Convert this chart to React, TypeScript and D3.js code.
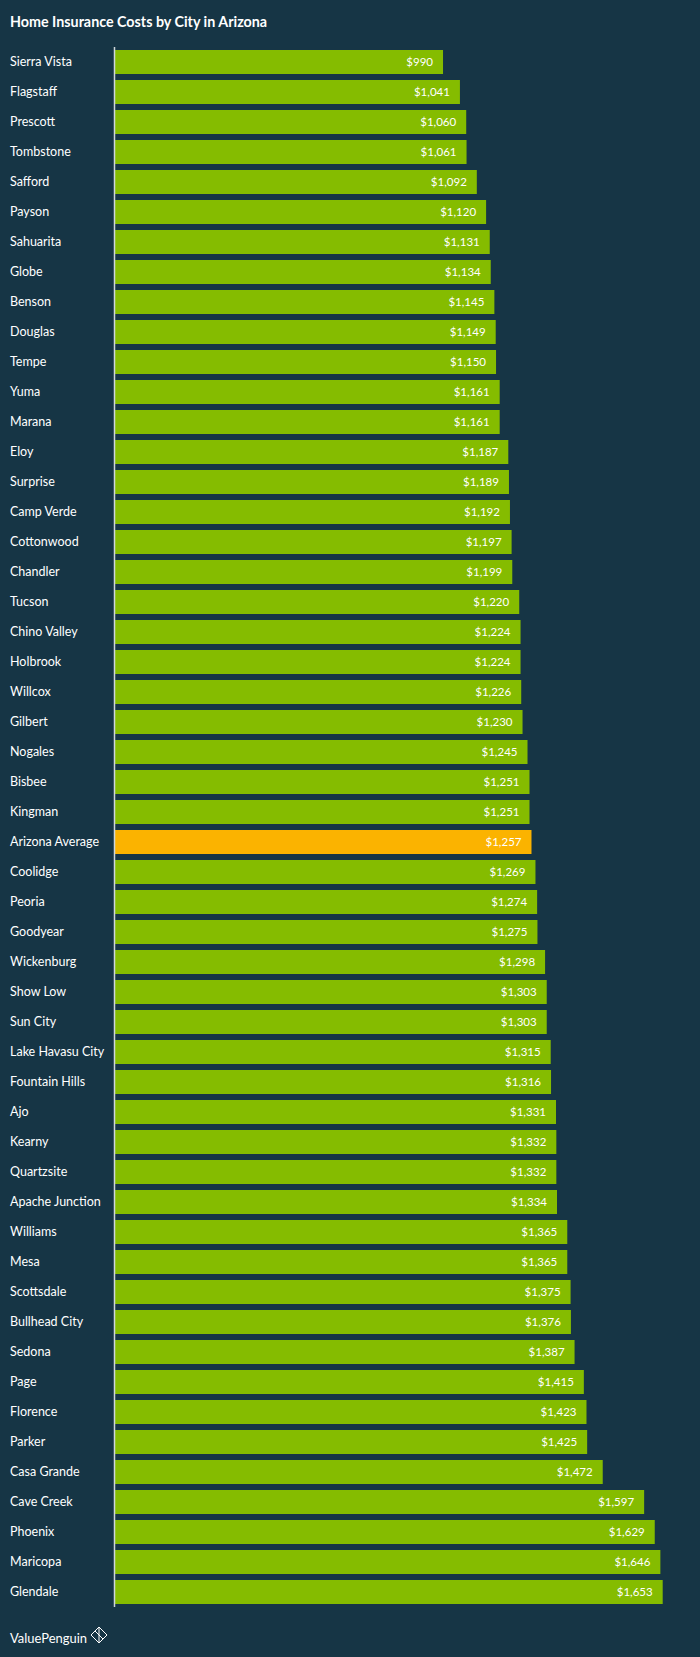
import React from "react";
import * as d3 from "d3";

const cities = ["Sierra Vista","Flagstaff","Prescott","Tombstone","Safford","Payson","Sahuarita","Globe","Benson","Douglas","Tempe","Yuma","Marana","Eloy","Surprise","Camp Verde","Cottonwood","Chandler","Tucson","Chino Valley","Holbrook","Willcox","Gilbert","Nogales","Bisbee","Kingman","Arizona Average","Coolidge","Peoria","Goodyear","Wickenburg","Show Low","Sun City","Lake Havasu City","Fountain Hills","Ajo","Kearny","Quartzsite","Apache Junction","Williams","Mesa","Scottsdale","Bullhead City","Sedona","Page","Florence","Parker","Casa Grande","Cave Creek","Phoenix","Maricopa","Glendale"];
const costs = [990,1041,1060,1061,1092,1120,1131,1134,1145,1149,1150,1161,1161,1187,1189,1192,1197,1199,1220,1224,1224,1226,1230,1245,1251,1251,1257,1269,1274,1275,1298,1303,1303,1315,1316,1331,1332,1332,1334,1365,1365,1375,1376,1387,1415,1423,1425,1472,1597,1629,1646,1653];
const highlight = "Arizona Average";

const W = 700, H = 1657;
const BG = "#163545";
const GREEN = "#85bc00";
const ORANGE = "#fbb300";

export default function App() {
  const left = 115;
  const x = d3.scaleLinear().domain([0, 1653]).range([left, 662.7]);
  const y = d3.scaleBand().domain(cities).range([47, 47 + 30 * cities.length]).paddingInner(0.2).paddingOuter(0.1);
  const fmt = (v: number) => "$" + d3.format(",")(v);
  const font = "Lato, 'Open Sans', sans-serif";
  return (
    <svg width={W} height={H} style={{ position: "absolute", left: 0, top: 0, background: BG }}>
      <rect x={0} y={0} width={W} height={H} fill={BG} />
      <text x={10} y={27} fill="#fff" fontFamily={font} fontWeight={700} fontSize={14.3}>Home Insurance Costs by City in Arizona</text>
      {cities.map((c, i) => {
        const yy = y(c)!;
        const h = y.bandwidth();
        return (
          <g key={c}>
            <rect x={left} y={yy} width={x(costs[i]) - left} height={h} fill={c === highlight ? ORANGE : GREEN} />
            <text x={10} y={yy + h / 2} dy="0.35em" fill="#fff" fontFamily={font} fontSize={12.5}>{c}</text>
            <text x={x(costs[i]) - 10} y={yy + h / 2} dy="0.35em" textAnchor="end" fill="#fff" fontFamily={font} fontSize={11.5}>{fmt(costs[i])}</text>
          </g>
        );
      })}
      <line x1={left - 0.5} x2={left - 0.5} y1={47} y2={1607} stroke="#cfd6da" strokeWidth={1.5} />
      <text x={10} y={1643} fill="#fff" fontFamily={font} fontSize={13} textLength={77} lengthAdjust="spacingAndGlyphs">ValuePenguin</text>
      <g transform="translate(91,1627)" fill="none" stroke="#fff" strokeWidth={1}>
        <path d="M8,0 L16,8 L8,16 L0,8 Z" />
        <path d="M8,0 L8,16 M4,4 L12,12" />
      </g>
    </svg>
  );
}
